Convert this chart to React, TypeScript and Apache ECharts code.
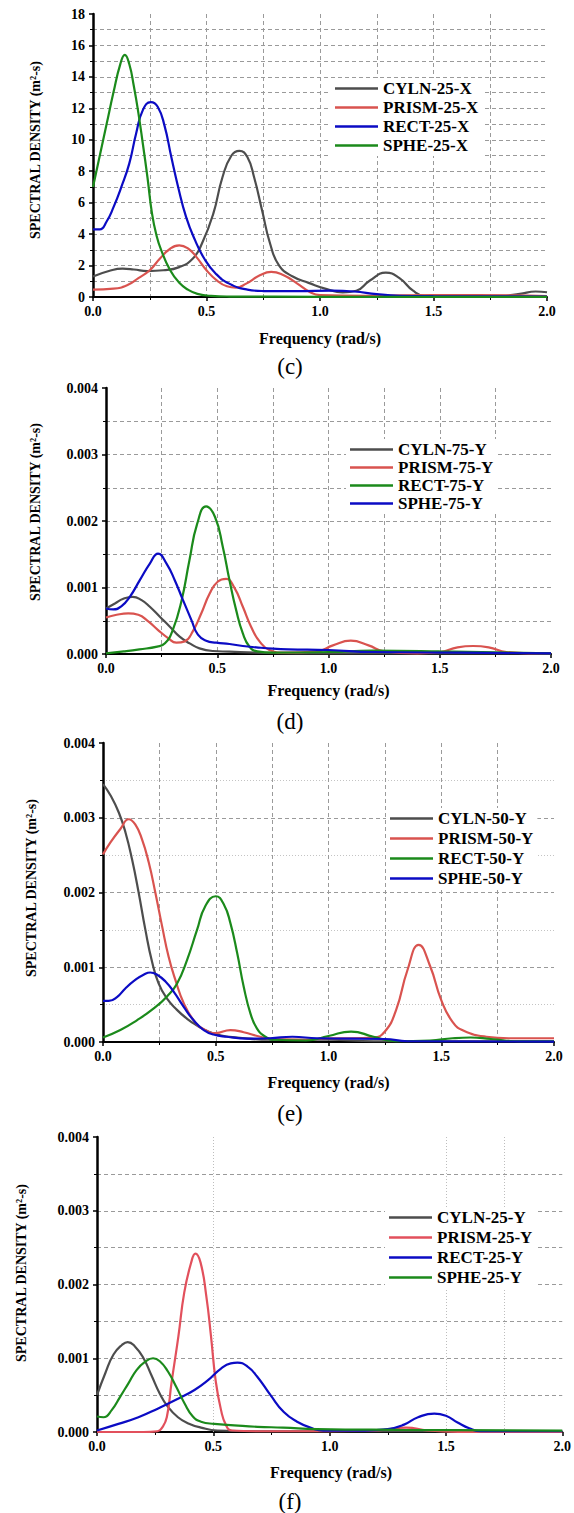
import { useEffect, useRef } from "react";
import * as echarts from "echarts";

const FONT = '"Liberation Serif", "Times New Roman", serif';

const FREQ_TICKS = [0, 0.5, 1.0, 1.5, 2.0];

// ---- (c) X direction, 25 ----
const cylnX25 = [[0, 1.3], [0.07, 1.65], [0.13, 1.8], [0.18, 1.75], [0.24, 1.65], [0.31, 1.7], [0.38, 1.9], [0.44, 2.45], [0.48, 3.4], [0.53, 5.3], [0.57, 7.6], [0.61, 9.0], [0.645, 9.3], [0.68, 8.9], [0.71, 7.6], [0.745, 5.5], [0.78, 3.4], [0.82, 2.0], [0.88, 1.3], [0.95, 0.9], [1.03, 0.5], [1.1, 0.3], [1.16, 0.4], [1.22, 1.05], [1.29, 1.55], [1.35, 1.2], [1.41, 0.4], [1.46, 0.08], [1.6, 0.05], [1.8, 0.07], [1.88, 0.2], [1.95, 0.35], [2.0, 0.3]];
const prismX25 = [[0, 0.47], [0.09, 0.53], [0.15, 0.75], [0.2, 1.2], [0.25, 1.7], [0.295, 2.45], [0.34, 3.07], [0.38, 3.28], [0.42, 3.07], [0.455, 2.55], [0.5, 1.7], [0.545, 1.06], [0.59, 0.68], [0.63, 0.6], [0.675, 0.85], [0.735, 1.38], [0.785, 1.6], [0.84, 1.38], [0.9, 0.85], [0.955, 0.32], [1.0, 0.12], [1.2, 0.08], [1.5, 0.12], [1.7, 0.12], [2.0, 0.05]];
const rectX25 = [[0, 4.3], [0.03, 4.3], [0.06, 4.8], [0.09, 5.7], [0.125, 7.0], [0.16, 8.5], [0.19, 10.4], [0.22, 11.9], [0.255, 12.4], [0.285, 12.1], [0.315, 10.9], [0.345, 8.9], [0.375, 7.0], [0.41, 5.1], [0.45, 3.6], [0.49, 2.45], [0.54, 1.5], [0.6, 0.85], [0.68, 0.47], [0.75, 0.38], [0.9, 0.37], [1.05, 0.4], [1.15, 0.35], [1.25, 0.18], [1.35, 0.08], [1.5, 0.05], [2.0, 0.03]];
const spheX25 = [[0, 7.0], [0.03, 9.0], [0.06, 11.0], [0.09, 13.0], [0.12, 14.8], [0.14, 15.4], [0.16, 14.8], [0.18, 13.4], [0.2, 11.7], [0.22, 9.7], [0.24, 7.6], [0.26, 5.3], [0.28, 3.9], [0.3, 3.0], [0.34, 1.7], [0.38, 0.9], [0.42, 0.45], [0.46, 0.2], [0.52, 0.07], [0.6, 0.03], [0.8, 0.02], [1.2, 0.01], [2.0, 0.01]];

// ---- (d) Y direction, 75 ----
const cylnY75 = [[0, 0.000685], [0.04, 0.00076], [0.078, 0.00083], [0.12, 0.00086], [0.16, 0.00081], [0.197, 0.00071], [0.242, 0.00056], [0.287, 0.00041], [0.331, 0.00026], [0.376, 0.00016], [0.42, 0.000085], [0.48, 0.000045], [0.555, 0.000035], [0.675, 0.00002], [1.0, 0.00001], [2.0, 0.00001]];
const prismY75 = [[0, 0.00055], [0.048, 0.00059], [0.1, 0.00061], [0.145, 0.00059], [0.19, 0.00049], [0.234, 0.00036], [0.279, 0.00024], [0.316, 0.00017], [0.354, 0.00019], [0.39, 0.00034], [0.428, 0.00061], [0.466, 0.00091], [0.503, 0.00109], [0.54, 0.00113], [0.578, 0.00099], [0.615, 0.00071], [0.652, 0.00041], [0.69, 0.00019], [0.734, 0.00006], [0.8, 0.00002], [0.95, 0.00004], [1.02, 0.00013], [1.1, 0.0002], [1.18, 0.00013], [1.25, 0.00004], [1.4, 0.00001], [1.5, 0.00003], [1.58, 0.0001], [1.65, 0.00012], [1.72, 0.0001], [1.8, 0.00003], [1.9, 0.00001], [2.0, 0.00001]];
const rectY75 = [[0, 0.00001], [0.08, 0.00004], [0.15, 0.00007], [0.23, 0.00011], [0.265, 0.00016], [0.3, 0.00036], [0.34, 0.00081], [0.375, 0.00141], [0.41, 0.00196], [0.45, 0.00222], [0.49, 0.00206], [0.525, 0.00161], [0.555, 0.00111], [0.585, 0.00066], [0.615, 0.00031], [0.645, 0.00011], [0.68, 0.00004], [0.75, 0.00002], [1.0, 0.00003], [1.2, 0.00005], [1.5, 0.00004], [2.0, 0.00001]];
const spheY75 = [[0, 0.000685], [0.033, 0.00067], [0.07, 0.00072], [0.107, 0.00086], [0.152, 0.00111], [0.197, 0.00136], [0.234, 0.00151], [0.272, 0.00136], [0.309, 0.00111], [0.346, 0.00081], [0.384, 0.00051], [0.413, 0.00029], [0.45, 0.0002], [0.496, 0.00017], [0.555, 0.00015], [0.615, 0.00012], [0.675, 0.0001], [0.75, 0.00008], [0.82, 0.00007], [1.0, 0.00006], [1.2, 0.00003], [1.6, 0.00002], [2.0, 0.00001]];

// ---- (e) Y direction, 50 ----
const cylnY50 = [[0, 0.00345], [0.033, 0.0033], [0.07, 0.00307], [0.1, 0.0028], [0.129, 0.00244], [0.158, 0.002], [0.188, 0.0015], [0.217, 0.00108], [0.247, 0.00078], [0.284, 0.00058], [0.328, 0.00043], [0.373, 0.00031], [0.417, 0.00022], [0.46, 0.00015], [0.52, 0.00009], [0.595, 0.00006], [0.74, 0.00003], [1.0, 0.00003], [1.2, 0.00001], [2.0, 0.00001]];
const prismY50 = [[0, 0.00251], [0.033, 0.00267], [0.077, 0.00285], [0.114, 0.00298], [0.143, 0.00291], [0.173, 0.00271], [0.203, 0.0024], [0.232, 0.002], [0.262, 0.00155], [0.291, 0.00114], [0.321, 0.00083], [0.358, 0.00052], [0.402, 0.00029], [0.447, 0.00017], [0.5, 0.00012], [0.565, 0.00016], [0.624, 0.00013], [0.698, 0.00007], [0.76, 0.00004], [0.9, 0.00003], [1.0, 0.00005], [1.1, 0.00005], [1.2, 0.00006], [1.25, 0.00014], [1.3, 0.00043], [1.35, 0.00096], [1.4, 0.0013], [1.45, 0.00102], [1.5, 0.00056], [1.55, 0.00027], [1.6, 0.00015], [1.7, 0.00007], [1.8, 0.00005], [2.0, 0.00005]];
const rectY50 = [[0, 0.00006], [0.077, 0.00016], [0.15, 0.00029], [0.225, 0.00045], [0.284, 0.00061], [0.328, 0.00078], [0.373, 0.0011], [0.417, 0.0015], [0.454, 0.00182], [0.5, 0.00195], [0.536, 0.00184], [0.565, 0.00159], [0.595, 0.00119], [0.624, 0.00074], [0.654, 0.00038], [0.683, 0.00018], [0.72, 0.00007], [0.76, 0.00003], [0.9, 0.00002], [1.0, 0.00008], [1.1, 0.00014], [1.2, 0.00007], [1.3, 0.00001], [1.45, 0.00002], [1.55, 0.00005], [1.63, 0.00006], [1.72, 0.00004], [1.85, 0.00001], [2.0, 0.00001]];
const spheY50 = [[0, 0.00055], [0.025, 0.00055], [0.062, 0.0006], [0.1, 0.00072], [0.143, 0.00083], [0.18, 0.0009], [0.21, 0.00093], [0.24, 0.0009], [0.277, 0.00081], [0.314, 0.00067], [0.358, 0.00047], [0.402, 0.00029], [0.447, 0.00016], [0.49, 0.0001], [0.55, 0.00007], [0.64, 0.000045], [0.74, 0.00005], [0.84, 0.00007], [0.95, 0.00005], [1.25, 0.00004], [1.35, 0.00001], [2.0, 0.000005]];

// ---- (f) Y direction, 25 ----
const cylnY25 = [[0, 0.0005], [0.036, 0.0008], [0.071, 0.00105], [0.107, 0.00118], [0.132, 0.00122], [0.163, 0.00116], [0.2, 0.001], [0.234, 0.00077], [0.27, 0.00052], [0.305, 0.00034], [0.348, 0.0002], [0.39, 0.00012], [0.447, 0.00006], [0.518, 0.00002], [0.7, 0.00001], [2.0, 0.00001]];
const prismY25 = [[0, 0], [0.2, 0], [0.26, 0.00001], [0.28, 0.00006], [0.3, 0.0002], [0.32, 0.00066], [0.35, 0.0013], [0.375, 0.00189], [0.405, 0.0023], [0.423, 0.00242], [0.445, 0.0023], [0.47, 0.00184], [0.49, 0.0013], [0.51, 0.0007], [0.533, 0.0003], [0.555, 0.00009], [0.58, 0.00002], [0.7, 0.00001], [1.0, 0.00001], [1.2, 0.00002], [1.33, 0.00006], [1.42, 0.00002], [1.6, 0], [2.0, 0]];
const rectY25 = [[0, 0.00002], [0.092, 0.00011], [0.178, 0.0002], [0.263, 0.00032], [0.348, 0.00045], [0.419, 0.00057], [0.476, 0.0007], [0.533, 0.00086], [0.575, 0.00093], [0.604, 0.00094], [0.646, 0.00089], [0.689, 0.00075], [0.746, 0.0005], [0.803, 0.00027], [0.86, 0.00014], [0.93, 0.000045], [0.973, 0.00002], [1.15, 0.00002], [1.25, 0.00004], [1.32, 0.0001], [1.38, 0.0002], [1.45, 0.00025], [1.5, 0.00022], [1.55, 0.00013], [1.6, 0.00005], [1.65, 0.00001], [2.0, 0.00001]];
const spheY25 = [[0, 0.00021], [0.028, 0.0002], [0.064, 0.0003], [0.1, 0.00048], [0.135, 0.00066], [0.17, 0.00084], [0.206, 0.00095], [0.241, 0.001], [0.27, 0.00096], [0.305, 0.00082], [0.341, 0.00061], [0.376, 0.00039], [0.412, 0.00021], [0.447, 0.00014], [0.504, 0.00011], [0.59, 0.00009], [0.69, 0.00007], [0.8, 0.00006], [0.945, 0.00004], [1.3, 0.00003], [2.0, 0.00002]];

const GRAY = "#4d4d4d";
const RED = "#d9534f";
const BLUE = "#0b0bc4";
const GREEN = "#1b8a1b";

const panels = [
  {
    caption: "(c)",
    grid: { left: 93, top: 14, width: 454, height: 283 },
    yMax: 18, yStep: 2, yDigits: 0,
    curves: [
      { name: "CYLN-25-X", color: GRAY, data: cylnX25 },
      { name: "PRISM-25-X", color: RED, data: prismX25 },
      { name: "RECT-25-X", color: BLUE, data: rectX25 },
      { name: "SPHE-25-X", color: GREEN, data: spheX25 },
    ],
    legend: { left: 331, top: 78, gap: 2 },
    minorY: "dash", vGrid: "dash",
    yTitle: { x: 35, y: 150 }, xTitleY: 338, captionY: 366,
  },
  {
    caption: "(d)",
    grid: { left: 106, top: 388, width: 445, height: 266 },
    yMax: 0.004, yStep: 0.001, yDigits: 3,
    curves: [
      { name: "CYLN-75-Y", color: GRAY, data: cylnY75 },
      { name: "PRISM-75-Y", color: RED, data: prismY75 },
      { name: "RECT-75-Y", color: GREEN, data: rectY75 },
      { name: "SPHE-75-Y", color: BLUE, data: spheY75 },
    ],
    legend: { left: 346, top: 439, gap: 1 },
    minorY: "dash", vGrid: "dash",
    yTitle: { x: 35, y: 512 }, xTitleY: 690, captionY: 721,
  },
  {
    caption: "(e)",
    grid: { left: 103, top: 743, width: 451, height: 299 },
    yMax: 0.004, yStep: 0.001, yDigits: 3,
    curves: [
      { name: "CYLN-50-Y", color: GRAY, data: cylnY50 },
      { name: "PRISM-50-Y", color: RED, data: prismY50 },
      { name: "RECT-50-Y", color: GREEN, data: rectY50 },
      { name: "SPHE-50-Y", color: BLUE, data: spheY50 },
    ],
    legend: { left: 386, top: 808, gap: 3 },
    minorY: "dot", vGrid: "dash",
    yTitle: { x: 31, y: 888 }, xTitleY: 1082, captionY: 1113,
  },
  {
    caption: "(f)",
    grid: { left: 97, top: 1137, width: 468, height: 295 },
    yMax: 0.004, yStep: 0.001, yDigits: 3,
    curves: [
      { name: "CYLN-25-Y", color: GRAY, data: cylnY25 },
      { name: "PRISM-25-Y", color: "#e2505c", data: prismY25 },
      { name: "RECT-25-Y", color: BLUE, data: rectY25 },
      { name: "SPHE-25-Y", color: GREEN, data: spheY25 },
    ],
    legend: { left: 385, top: 1207, gap: 3 },
    minorY: "dash", vGrid: "sparse",
    yTitle: { x: 21, y: 1273 }, xTitleY: 1472, captionY: 1501,
  },
];

// dotted vertical guides drawn only at these frequencies in panel (f)
const sparseFreqLines = [0.5, 1.5, 1.75];

const DASH = { type: [4, 3], color: "#9a9a9a", width: 1 };
const DOT = { type: [1, 2], color: "#c4c4c4", width: 1 };

function buildOption() {
  const grid: any[] = [];
  const xAxis: any[] = [];
  const yAxis: any[] = [];
  const series: any[] = [];
  const legend: any[] = [];
  const graphic: any[] = [];

  panels.forEach((p, i) => {
    grid.push({ ...p.grid });
    const dashV = p.vGrid === "dash";
    xAxis.push({
      type: "value",
      gridIndex: i,
      min: 0,
      max: 2,
      interval: 0.5,
      axisLine: { show: true, onZero: false, lineStyle: { color: "#000", width: 2 } },
      axisTick: { show: true, inside: false, length: 4, lineStyle: { color: "#000", width: 1.5 } },
      minorTick: { show: true, splitNumber: 2, length: 3, lineStyle: { color: "#000", width: 1 } },
      axisLabel: {
        formatter: (v: number) => v.toFixed(1),
        fontFamily: FONT, fontWeight: "bold", fontSize: 14, color: "#000", margin: 7,
        customValues: FREQ_TICKS,
      },
      splitLine: { show: dashV, showMinLine: false, showMaxLine: false, lineStyle: DASH },
      minorSplitLine: { show: dashV, lineStyle: DASH },
    });
    yAxis.push({
      type: "value",
      gridIndex: i,
      min: 0,
      max: p.yMax,
      interval: p.yStep,
      axisLine: { show: true, lineStyle: { color: "#000", width: 2.5 } },
      axisTick: { show: true, inside: false, length: 4, lineStyle: { color: "#000", width: 1.5 } },
      minorTick: { show: true, splitNumber: 2, length: 3, lineStyle: { color: "#000", width: 1 } },
      axisLabel: {
        formatter: (v: number) => v.toFixed(p.yDigits),
        fontFamily: FONT, fontWeight: "bold", fontSize: 14, color: "#000", margin: 8,
      },
      splitLine: { show: true, showMinLine: false, showMaxLine: false, lineStyle: DASH },
      minorSplitLine: { show: true, lineStyle: p.minorY === "dot" ? DOT : DASH },
    });

    p.curves.forEach((c, k) => {
      const s: any = {
        type: "line",
        name: c.name,
        xAxisIndex: i,
        yAxisIndex: i,
        data: c.data,
        showSymbol: false,
        smooth: 0.5,
        lineStyle: { color: c.color, width: 2.2 },
        itemStyle: { color: c.color },
        z: 3 + k,
      };
      if (p.vGrid === "sparse" && k === 0) {
        s.markLine = {
          silent: true,
          symbol: "none",
          label: { show: false },
          lineStyle: { ...DOT, color: "#bdbdbd" },
          data: sparseFreqLines.map((f) => ({ xAxis: f })),
          z: 1,
        };
      }
      series.push(s);
    });

    legend.push({
      orient: "vertical",
      left: p.legend.left,
      top: p.legend.top,
      data: p.curves.map((c) => c.name),
      icon: "rect",
      itemWidth: 43,
      itemHeight: 2.5,
      itemGap: p.legend.gap,
      backgroundColor: "#fff",
      padding: [2, 4],
      selectedMode: false,
      textStyle: { fontFamily: FONT, fontWeight: "bold", fontSize: 17, color: "#000", lineHeight: 16 },
    });

    const cx = p.grid.left + p.grid.width / 2;
    graphic.push({
      type: "text",
      x: p.yTitle.x,
      y: p.yTitle.y,
      rotation: Math.PI / 2,
      style: {
        text: "SPECTRAL DENSITY (m²-s)",
        fontFamily: FONT, fontWeight: "bold", fontSize: 14, fill: "#000",
        align: "center", verticalAlign: "middle",
        textAlign: "center", textVerticalAlign: "middle",
      },
    });
    graphic.push({
      type: "text",
      x: cx,
      y: p.xTitleY,
      style: {
        text: "Frequency (rad/s)",
        fontFamily: FONT, fontWeight: "bold", fontSize: 16, fill: "#000",
        align: "center", verticalAlign: "middle",
        textAlign: "center", textVerticalAlign: "middle",
      },
    });
    graphic.push({
      type: "text",
      x: 290,
      y: p.captionY,
      style: {
        text: p.caption,
        fontFamily: FONT, fontSize: 23, fill: "#000",
        align: "center", verticalAlign: "middle",
        textAlign: "center", textVerticalAlign: "middle",
      },
    });
  });

  return {
    animation: false,
    backgroundColor: "#fff",
    grid,
    xAxis,
    yAxis,
    series,
    legend,
    graphic,
  };
}

export default function App() {
  const ref = useRef<HTMLDivElement>(null);
  useEffect(() => {
    if (!ref.current) return;
    const chart = echarts.init(ref.current, null, { renderer: "svg" });
    chart.setOption(buildOption() as any);
    return () => chart.dispose();
  }, []);
  return (
    <div
      ref={ref}
      style={{ position: "absolute", left: 0, top: 0, width: 574, height: 1513, background: "#fff" }}
    />
  );
}
